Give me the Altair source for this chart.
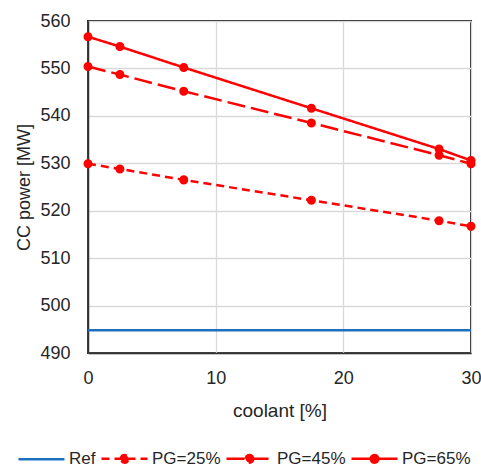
import altair as alt
import pandas as pd

coolant = [0, 2.5, 7.5, 17.5, 27.5, 30]
pg25 = [529.9, 528.8, 526.5, 522.2, 517.9, 516.7]
pg45 = [550.4, 548.7, 545.2, 538.5, 531.7, 529.9]
pg65 = [556.7, 554.6, 550.2, 541.6, 533.0, 530.6]
ref_x = [0, 30]
ref_y = [494.8, 494.8]

series_names = ["Ref", "PG=25%", "PG=45%", "PG=65%"]
colors = ["#1f6fc0", "#ff0000", "#ff0000", "#ff0000"]
dashes = [[1, 0], [8, 5], [18, 6], [1, 0]]
y_ticks = [490, 500, 510, 520, 530, 540, 550, 560]
x_ticks = [0, 10, 20, 30]

rows = []
for x, y in zip(ref_x, ref_y):
    rows.append({"series": "Ref", "coolant": x, "power": y})
for name, vals in [("PG=25%", pg25), ("PG=45%", pg45), ("PG=65%", pg65)]:
    for x, y in zip(coolant, vals):
        rows.append({"series": name, "coolant": x, "power": y})
df = pd.DataFrame(rows)

FONT = "Liberation Sans"
TXT = "#262626"

# legend glyphs: a line, or a line with a dot in the middle
r = 0.165
dot = f"M{-r},0A{r},{r} 0 1,1 {r},0A{r},{r} 0 1,1 {-r},0Z"
line_only = "M-1,0H1"
line_dot = "M-1,0H1" + dot
shapes = [line_only, line_dot, line_dot, line_dot]

legend = alt.Legend(
    title=None,
    orient="none",
    legendX=-71,
    legendY=413,
    direction="horizontal",
    columns=4,
    symbolSize=2116,
    symbolStrokeWidth=2.5,
    symbolFillColor="#ff0000",
    labelFontSize=17,
    labelFont=FONT,
    labelColor=TXT,
    labelOffset=3,
    columnPadding=0,
)

x_enc = alt.X(
    "coolant:Q",
    scale=alt.Scale(domain=[0, 30], nice=False),
    axis=alt.Axis(values=x_ticks, title="coolant [%]", labelPadding=16, titlePadding=14,
                  labelFlush=False, titleFontSize=19),
)
y_enc = alt.Y(
    "power:Q",
    scale=alt.Scale(domain=[490, 560], nice=False, zero=False),
    axis=alt.Axis(values=y_ticks, title="CC power [MW]", labelPadding=18, titlePadding=6,
                  labelFlush=False, titleFontSize=18),
)

lines = alt.Chart(df).mark_line(strokeWidth=2.5).encode(
    x=x_enc,
    y=y_enc,
    color=alt.Color("series:N", scale=alt.Scale(domain=series_names, range=colors), legend=legend),
    strokeDash=alt.StrokeDash("series:N", scale=alt.Scale(domain=series_names, range=dashes), legend=legend),
)

points = alt.Chart(df).transform_filter("datum.series !== 'Ref'").mark_point(
    size=3000, filled=True, fill="#ff0000", strokeOpacity=0, strokeWidth=0, opacity=1
).encode(
    x="coolant:Q",
    y="power:Q",
    shape=alt.Shape("series:N", scale=alt.Scale(domain=series_names, range=shapes), legend=legend),
)

chart = (
    alt.layer(lines, points)
    .properties(
        width=383,
        height=332,
        autosize=alt.AutoSizeParams(type="none"),
        padding={"left": 88, "top": 21, "right": 10, "bottom": 115},
        background="white",
    )
    .configure_view(stroke="#111111", strokeWidth=1.8)
    .configure_axis(
        labelFont=FONT,
        titleFont=FONT,
        labelFontSize=18,
        titleFontWeight="normal",
        labelColor=TXT,
        titleColor=TXT,
        ticks=False,
        domain=True,
        domainColor="#333333",
        domainWidth=1.5,
        gridColor="#d9d9d9",
        gridWidth=1.3,
    )
)

chart.save("out.html", embed_options={"renderer": "svg", "actions": False})
